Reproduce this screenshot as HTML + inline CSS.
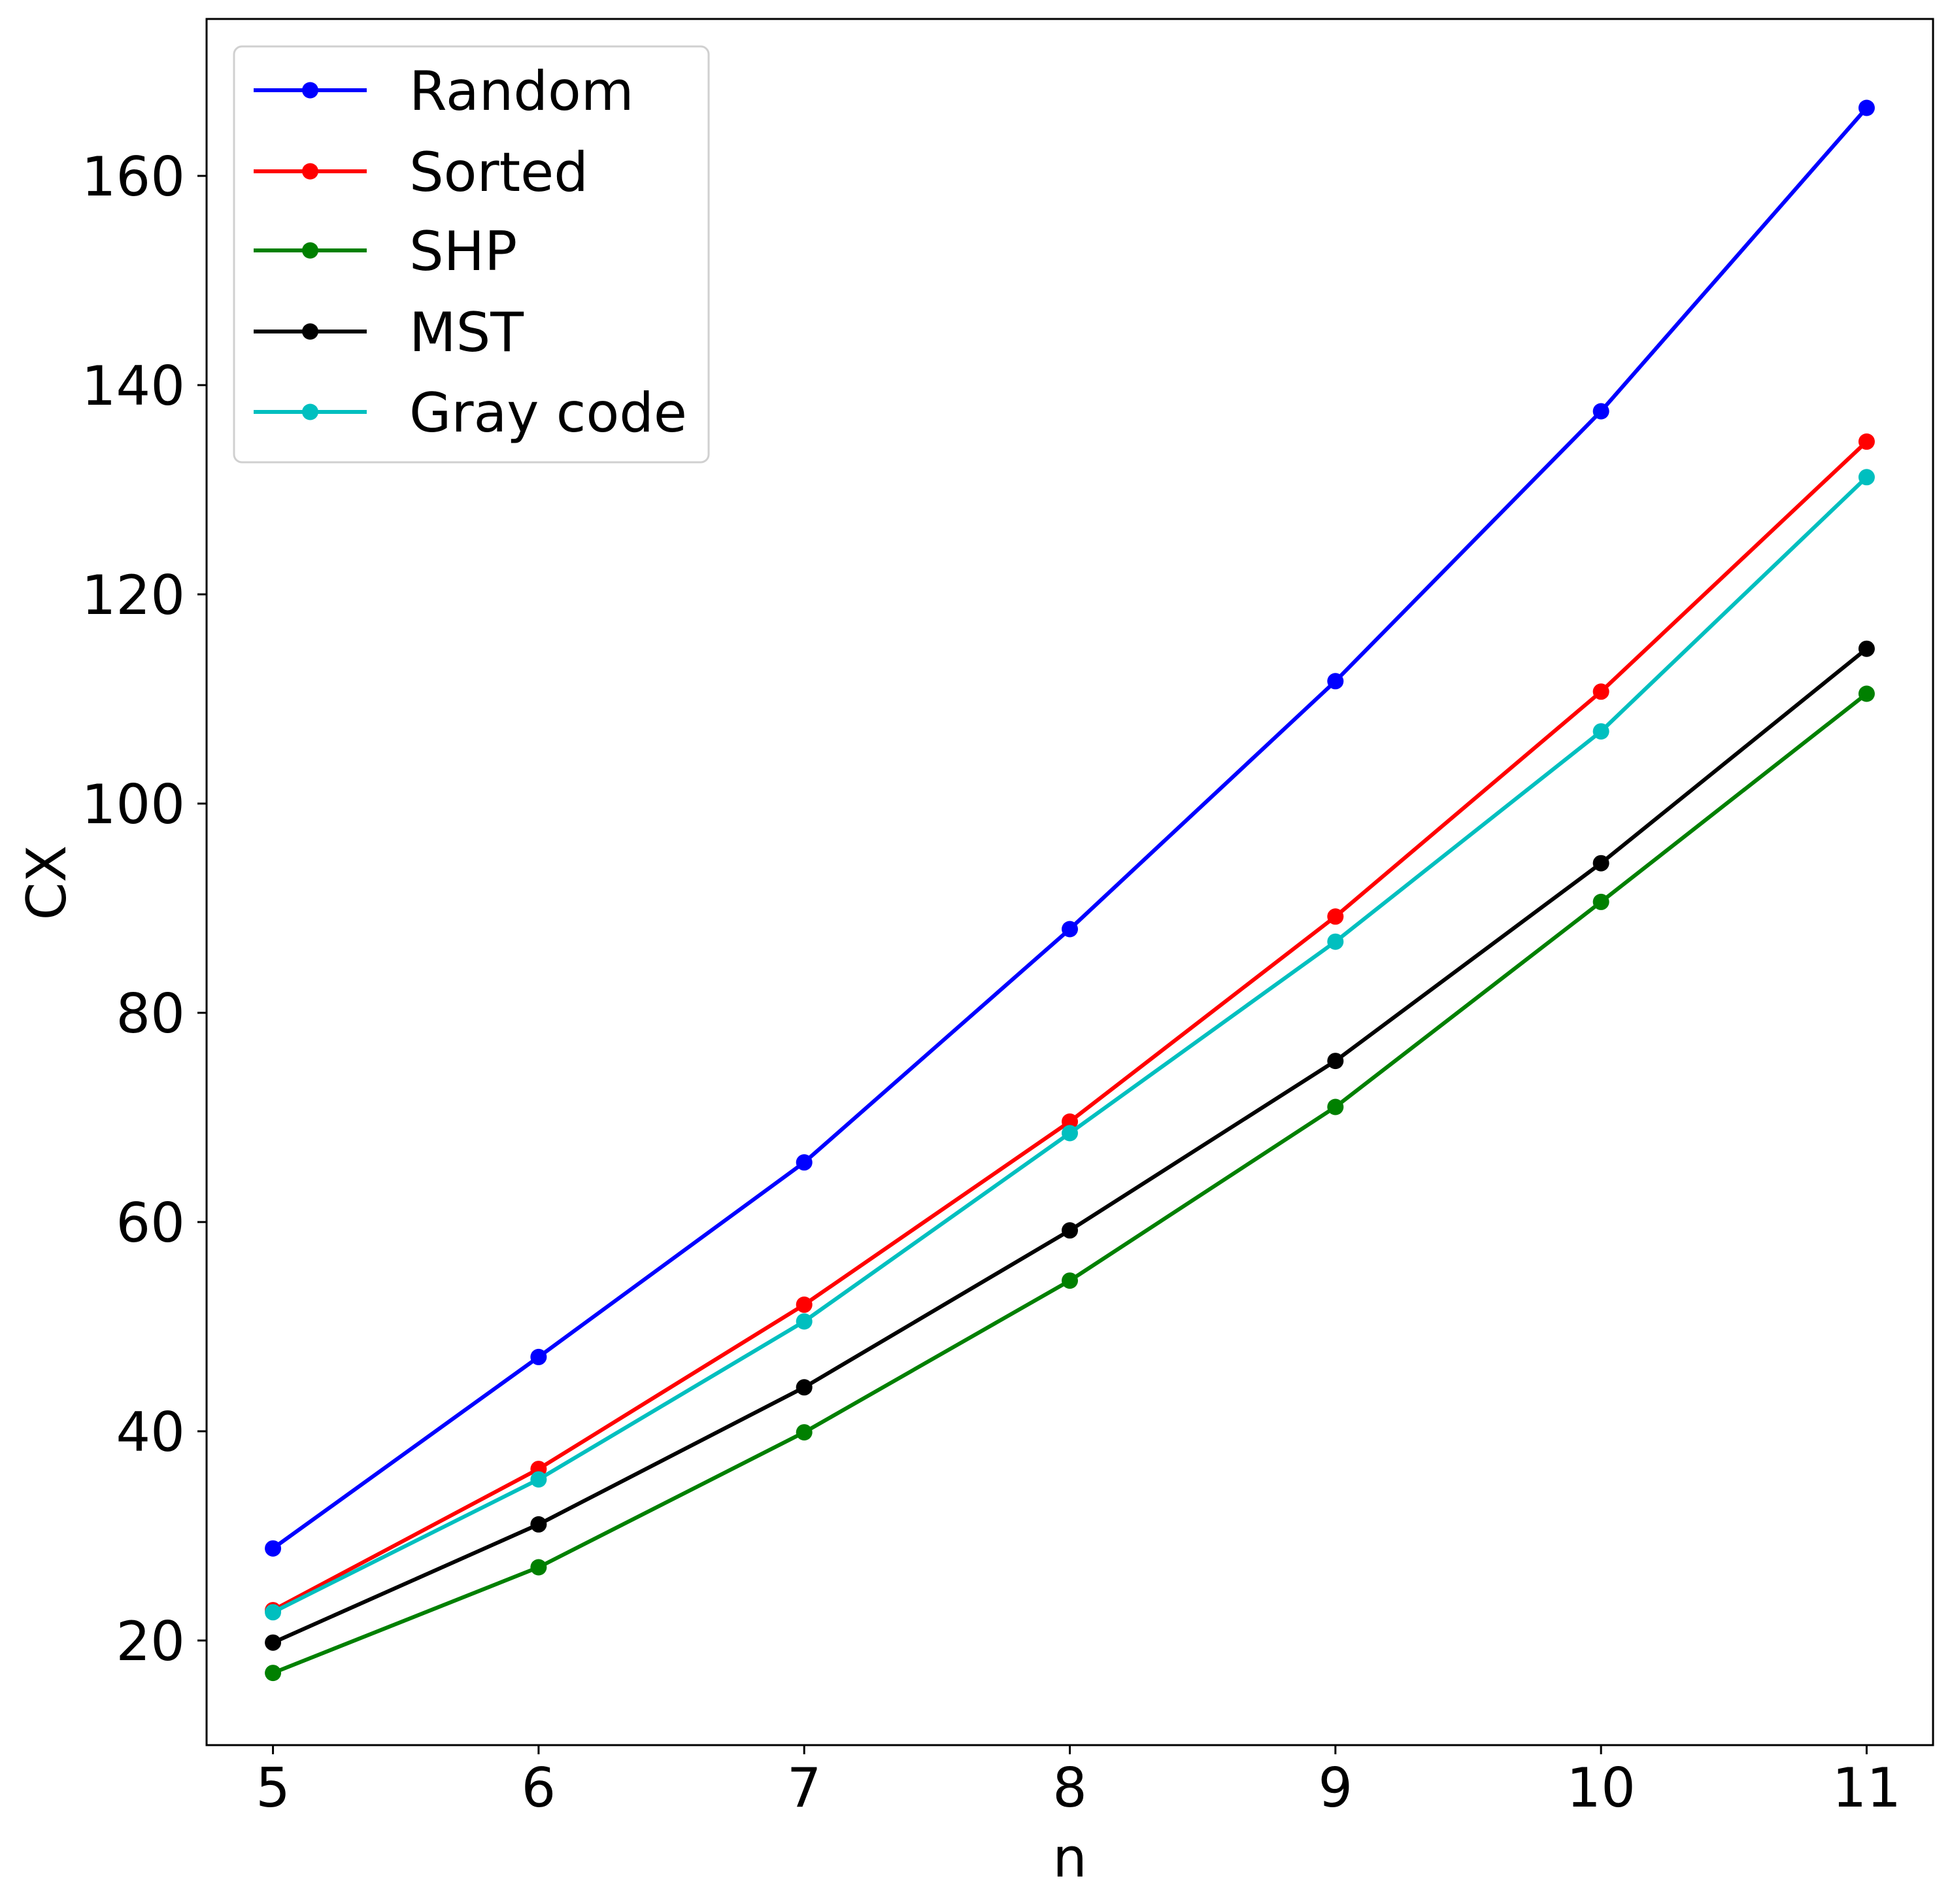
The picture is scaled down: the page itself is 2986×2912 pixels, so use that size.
<!DOCTYPE html>
<html><head><meta charset="utf-8"><style>
html,body{margin:0;padding:0;background:#fff}
svg text{font-family:"DejaVu Sans","Liberation Sans",sans-serif;fill:#000}
</style></head><body>
<svg id="chart" width="2986" height="2907" xmlns="http://www.w3.org/2000/svg">
<rect width="2986" height="2907" fill="#fff"/>
<g id="plot"></g>
</svg>
<script>
const categories = [5, 6, 7, 8, 9, 10, 11];
const randomVals = [28.8, 47.1, 65.7, 88.0, 111.7, 137.5, 166.5];
const sortedVals = [22.9, 36.4, 52.1, 69.6, 89.2, 110.7, 134.6];
const shpVals = [16.9, 27.0, 39.9, 54.4, 71.0, 90.6, 110.5];
const mstVals = [19.8, 31.1, 44.2, 59.2, 75.4, 94.3, 114.8];
const grayVals = [22.7, 35.4, 50.5, 68.5, 86.8, 106.9, 131.2];
const seriesNames = ["Random", "Sorted", "SHP", "MST", "Gray code"];
const yTicks = [20, 40, 60, 80, 100, 120, 140, 160];
const xTicks = [5, 6, 7, 8, 9, 10, 11];

const NS = "http://www.w3.org/2000/svg";
const L = 316, R = 2957, T = 29, B = 2669;
const xMin = 4.75, xMax = 11.25, yMin = 10, yMax = 175;
const FS = 83;
function xs(v){ return L + (v - xMin) / (xMax - xMin) * (R - L); }
function ys(v){ return B - (v - yMin) / (yMax - yMin) * (B - T); }
const g = document.getElementById('plot');
function mk(tag, attrs, parent){ const e = document.createElementNS(NS, tag); for (const k in attrs) e.setAttribute(k, attrs[k]); (parent||g).appendChild(e); return e; }

const series = [
  {vals: randomVals, color: "#0000ff", key: "random"},
  {vals: sortedVals, color: "#ff0000", key: "sorted"},
  {vals: shpVals, color: "#008000", key: "shp"},
  {vals: mstVals, color: "#000000", key: "mst"},
  {vals: grayVals, color: "#00bfbf", key: "gray-code"}
];

series.forEach((s, si) => {
  const grp = mk('g', {});
  
  
  const pts = s.vals.map((v, i) => xs(categories[i]) + ',' + ys(v)).join(' ');
  const pl = mk('polyline', {points: pts, fill: 'none', stroke: s.color, 'stroke-width': 6, 'stroke-linejoin': 'round'}, grp);
  
  
  s.vals.forEach((v, i) => {
    const c = mk('circle', {cx: xs(categories[i]), cy: ys(v), r: 12.5, fill: s.color}, grp);
    
    
  });
});

const frame = mk('rect', {x: L, y: T, width: R - L, height: B - T, fill: 'none', stroke: '#000', 'stroke-width': 3});



yTicks.forEach(t => {
  const y = ys(t);
  const tk = mk('line', {x1: L - 14, x2: L, y1: y, y2: y, stroke: '#000', 'stroke-width': 3});
  
  
  const tx = mk('text', {x: 283, y: y + 30, 'text-anchor': 'end', 'font-size': FS});
  tx.textContent = t;
  
  
});
xTicks.forEach(t => {
  const x = xs(t);
  const tk = mk('line', {x1: x, x2: x, y1: B, y2: B + 14, stroke: '#000', 'stroke-width': 3});
  
  
  const tx = mk('text', {x: x, y: 2763, 'text-anchor': 'middle', 'font-size': FS});
  tx.textContent = t;
  
  
});
const xl = mk('text', {x: (L + R) / 2, y: 2870, 'text-anchor': 'middle', 'font-size': FS});
xl.textContent = 'n';


const yl = mk('text', {x: 0, y: 0, 'text-anchor': 'middle', 'font-size': FS, transform: 'translate(100,1350) rotate(-90)'});
yl.textContent = 'CX';



const lg = mk('g', {});


const lb = mk('rect', {x: 358, y: 71, width: 726, height: 636, rx: 12, fill: '#fff', 'fill-opacity': 0.8, stroke: '#d0d0d0', 'stroke-width': 3}, lg);


const legendY = [138, 262, 383, 507, 630];
series.forEach((s, i) => {
  const e = mk('g', {}, lg);
  
  
  const y = legendY[i];
  mk('line', {x1: 388, x2: 561, y1: y, y2: y, stroke: s.color, 'stroke-width': 6}, e);
  mk('circle', {cx: 474.5, cy: y, r: 12.5, fill: s.color}, e);
  const t = mk('text', {x: 626, y: y + 30, 'font-size': FS}, e);
  t.textContent = seriesNames[i];
});
</script>
</body></html>
